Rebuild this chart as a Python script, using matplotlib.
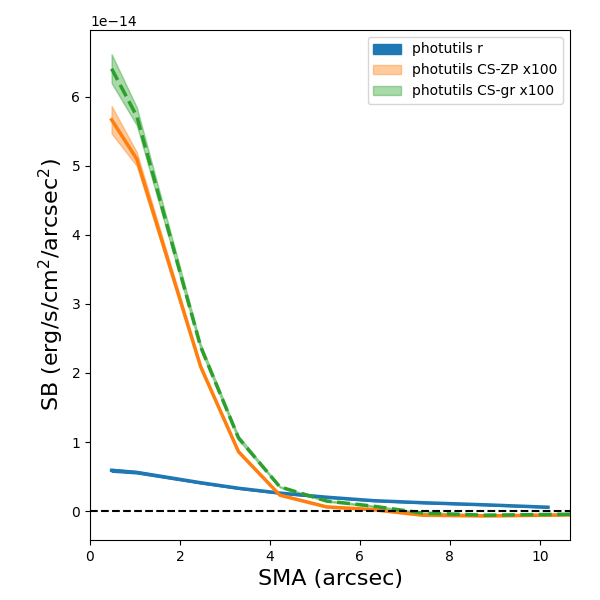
import numpy as np
import matplotlib
matplotlib.use("Agg")
import matplotlib.pyplot as plt

# semi-major axis (arcsec)
sma = np.array([0.48, 1.04, 2.46, 3.30, 4.22, 5.26, 6.30, 7.40, 8.78, 10.18, 11.5])

# surface brightness in units of 1e-14 erg/s/cm2/arcsec2
sb_r = np.array([0.59, 0.56, 0.41, 0.33, 0.26, 0.20, 0.15, 0.12, 0.09, 0.055, np.nan])
sb_r_err = np.array([0.02, 0.015, 0.01, 0.008, 0.007, 0.006, 0.005, 0.005, 0.005, 0.005, np.nan])

sb_zp = np.array([5.67, 5.10, 2.09, 0.86, 0.23, 0.06, 0.02, -0.06, -0.07, -0.06, -0.05])
sb_zp_err = np.array([0.20, 0.10, 0.03, 0.02, 0.01, 0.01, 0.01, 0.01, 0.01, 0.01, 0.01])

sb_gr = np.array([6.41, 5.72, 2.38, 1.06, 0.35, 0.145, 0.07, -0.03, -0.06, -0.05, -0.04])
sb_gr_err = np.array([0.21, 0.13, 0.04, 0.03, 0.01, 0.01, 0.01, 0.01, 0.01, 0.01, 0.01])

scale = 1e-14

fig, ax = plt.subplots(figsize=(6, 6), dpi=100)
fig.subplots_adjust(left=0.15, right=0.95, top=0.95, bottom=0.10)

ax.fill_between(sma, (sb_r - sb_r_err) * scale, (sb_r + sb_r_err) * scale,
                color="C0", label="photutils r")
ax.plot(sma, sb_r * scale, color="C0", lw=2.5)

ax.fill_between(sma, (sb_zp - sb_zp_err) * scale, (sb_zp + sb_zp_err) * scale,
                color="C1", alpha=0.4, label="photutils CS-ZP x100")
ax.plot(sma, sb_zp * scale, color="C1", lw=2.5)

ax.fill_between(sma, (sb_gr - sb_gr_err) * scale, (sb_gr + sb_gr_err) * scale,
                color="C2", alpha=0.4, label="photutils CS-gr x100")
ax.plot(sma, sb_gr * scale, color="C2", lw=2.5, ls="--")

ax.axhline(0, color="k", ls="--", lw=1.5)

ax.set_xlim(0, 10.67)
ax.set_ylim(-0.42e-14, 6.97e-14)
ax.set_xlabel("SMA (arcsec)", fontsize=16)
ax.set_ylabel(r"SB (erg/s/cm$^2$/arcsec$^2$)", fontsize=16)
ax.legend(loc="upper right")

fig.savefig("out.png", dpi=100)
